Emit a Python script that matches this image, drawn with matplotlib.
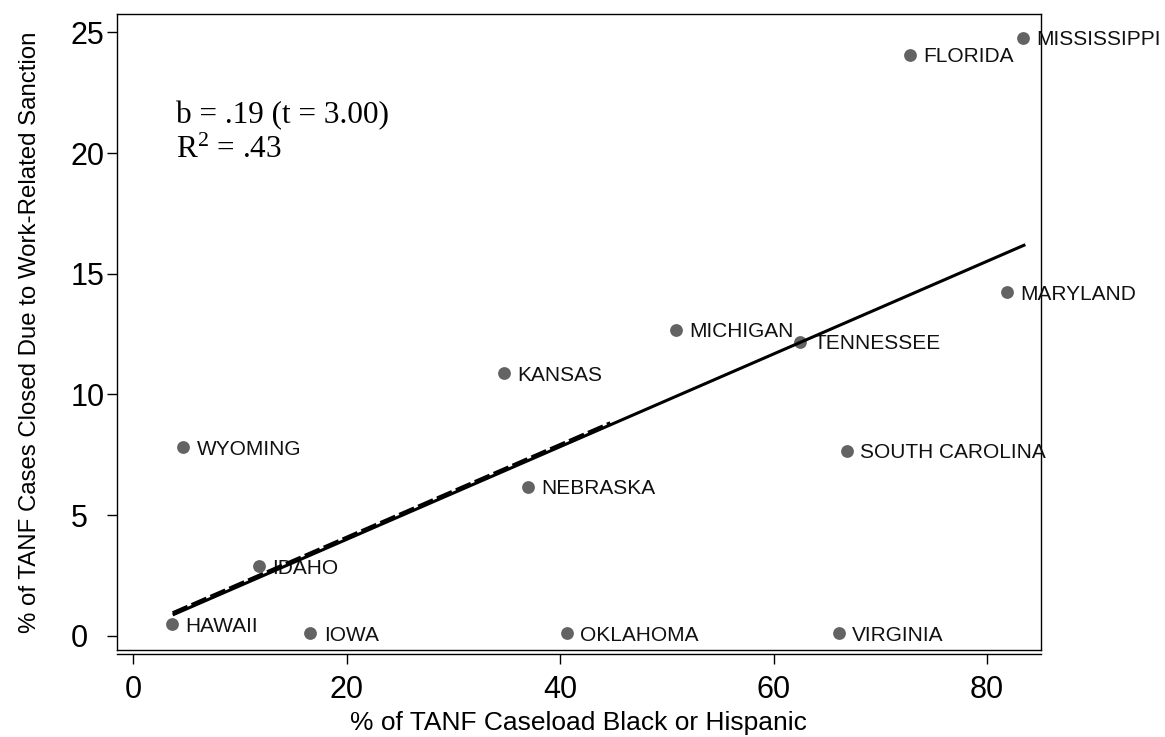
import matplotlib.pyplot as plt
import numpy as np

plt.rcParams['font.family'] = ['Liberation Sans', 'DejaVu Sans']
plt.rcParams['mathtext.fontset'] = 'custom'
plt.rcParams['mathtext.rm'] = 'Liberation Serif'
plt.rcParams['mathtext.it'] = 'Liberation Serif'

# data
states = ['MISSISSIPPI', 'FLORIDA', 'MARYLAND', 'MICHIGAN', 'TENNESSEE', 'KANSAS',
          'WYOMING', 'SOUTH CAROLINA', 'NEBRASKA', 'IDAHO', 'HAWAII', 'IOWA',
          'OKLAHOMA', 'VIRGINIA']
pct_black_hisp = [83.4, 72.8, 81.9, 50.9, 62.5, 34.7, 4.7, 66.9, 37.0, 11.8, 3.6, 16.6, 40.6, 66.1]
pct_sanction = [24.77, 24.07, 14.24, 12.67, 12.18, 10.87, 7.81, 7.67, 6.17, 2.89, 0.48, 0.1, 0.1, 0.1]

# fitted line (solid, all states) and the shorter dashed fit
fit_a, fit_b = 0.152, 0.192
fit_x = [3.69, 83.6]
dash_a, dash_b = 0.23, 0.192
dash_x = [3.69, 44.7]

xticks = [0, 20, 40, 60, 80]
yticks = [0, 5, 10, 15, 20, 25]

W, H = 1165, 737
fig = plt.figure(figsize=(W / 100, H / 100), dpi=100)
ax = fig.add_axes([117 / W, 1 - 650 / H, (1040.7 - 117) / W, (650 - 14) / H])

ax.scatter(pct_black_hisp, pct_sanction, s=85, color='#636363', zorder=2, linewidths=0)
for name, x, y in zip(states, pct_black_hisp, pct_sanction):
    ax.annotate(name, (x, y), xytext=(9.5, -1.5), textcoords='offset points',
                fontsize=15, va='center', ha='left', color='#111111', zorder=3,
                annotation_clip=False)

fx = np.array(fit_x)
ax.plot(fx, fit_a + fit_b * fx, color='black', lw=2.2, zorder=4, solid_capstyle='butt')
dx = np.array(dash_x)
ax.plot(dx, dash_a + dash_b * dx, color='black', lw=2.6, zorder=4, dashes=(4.5, 1.2))

fig.text(176 / W, 1 - 123 / H, 'b = .19 (t = 3.00)', family='Liberation Serif',
         fontsize=22.5, va='baseline', ha='left')
fig.text(176 / W, 1 - 158 / H, r'R$^{\mathrm{2}}$ = .43', family='Liberation Serif',
         fontsize=22.5, va='baseline', ha='left')

ax.set_xlim(-1.53, 85.04)
ax.set_ylim(-0.593, 25.76)
ax.set_xticks(xticks)
ax.set_yticks(yticks)
ax.tick_params(axis='both', direction='out', length=7.2, width=1, labelsize=22)
ax.tick_params(axis='x', pad=8)
ax.tick_params(axis='y', pad=26)
for lab in ax.get_yticklabels():
    lab.set_ha('left')

for sp in ax.spines.values():
    sp.set_linewidth(1)
ax.spines['bottom'].set_position(('outward', 3))
ax.plot([0, 1], [0, 0], transform=ax.transAxes, color='black', lw=1, clip_on=False)

ax.set_xlabel('% of TANF Caseload Black or Hispanic', fontsize=19)
ax.set_ylabel('% of TANF Cases Closed Due to Work-Related Sanction', fontsize=17.3)
ax.xaxis.set_label_coords(0.5, -(730 - 650) / 636, transform=ax.transAxes)
ax.yaxis.set_label_coords(-(117 - 30) / 923.7, 0.5, transform=ax.transAxes)
ax.xaxis.label.set_va('baseline')
ax.yaxis.label.set_va('center')

fig.savefig('out.png', dpi=100)
